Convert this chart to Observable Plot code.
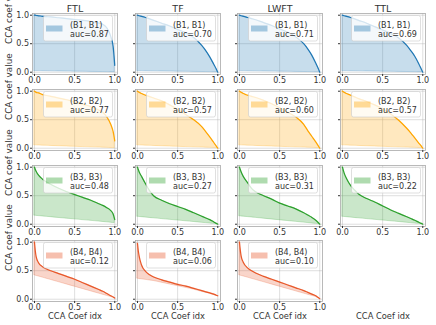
<!DOCTYPE html>
<html><head><meta charset="utf-8">
<script src="https://cdn.jsdelivr.net/npm/d3@7"></script>
<script src="https://cdn.jsdelivr.net/npm/@observablehq/plot@0.6"></script>
<style>
html,body{margin:0;padding:0;background:#fff;}
#chart{position:relative;width:436px;height:325px;font-family:"DejaVu Sans",sans-serif;overflow:hidden;background:#fff;}
</style></head><body><div id="chart"></div>
<script>
const methods = ["FTL", "TF", "LWFT", "TTL"];
const pairs = ["(B1, B1)", "(B2, B2)", "(B3, B3)", "(B4, B4)"];
const auc = [[0.87, 0.70, 0.71, 0.69], [0.77, 0.57, 0.60, 0.57], [0.48, 0.27, 0.31, 0.22], [0.12, 0.06, 0.10]];
const idx = [0, 0.01, 0.02, 0.05, 0.1, 0.15, 0.2, 0.3, 0.4, 0.5, 0.6, 0.7, 0.8, 0.85, 0.9, 0.95, 0.98, 1.0];
const xTicks = [0, 0.5, 1];
const xLabel = "CCA Coef idx";
const yLabel = "CCA coef value";

// upper curves (CCA coefficient values), one array per method: FTL, TF, LWFT, TTL
const upperB1 = [
  [1.0, 1.0, 0.995, 0.99, 0.98, 0.975, 0.97, 0.955, 0.94, 0.925, 0.91, 0.89, 0.86, 0.84, 0.78, 0.63, 0.45, 0.12],
  [1.0, 0.995, 0.99, 0.98, 0.96, 0.935, 0.91, 0.86, 0.81, 0.75, 0.69, 0.61, 0.47, 0.38, 0.27, 0.14, 0.06, 0.0],
  [1.0, 0.995, 0.99, 0.98, 0.96, 0.94, 0.92, 0.87, 0.82, 0.76, 0.70, 0.62, 0.50, 0.41, 0.30, 0.16, 0.07, 0.0],
  [1.0, 0.995, 0.99, 0.98, 0.96, 0.935, 0.91, 0.86, 0.80, 0.74, 0.68, 0.60, 0.47, 0.38, 0.28, 0.15, 0.06, 0.0]
];
const lowerB1 = [
  [0.02, 0.02, 0.02, 0.02, 0.018, 0.017, 0.016, 0.014, 0.012, 0.01, 0.008, 0.006, 0.004, 0.003, 0.002, 0.001, 0.0, 0.0],
  [0.02, 0.02, 0.02, 0.02, 0.018, 0.017, 0.016, 0.014, 0.012, 0.01, 0.008, 0.006, 0.004, 0.003, 0.002, 0.001, 0.0, 0.0],
  [0.02, 0.02, 0.02, 0.02, 0.018, 0.017, 0.016, 0.014, 0.012, 0.01, 0.008, 0.006, 0.004, 0.003, 0.002, 0.001, 0.0, 0.0],
  [0.02, 0.02, 0.02, 0.02, 0.018, 0.017, 0.016, 0.014, 0.012, 0.01, 0.008, 0.006, 0.004, 0.003, 0.002, 0.001, 0.0, 0.0]
];
const upperB2 = [
  [1.0, 0.99, 0.98, 0.97, 0.94, 0.925, 0.91, 0.88, 0.85, 0.81, 0.77, 0.73, 0.67, 0.63, 0.55, 0.42, 0.29, 0.13],
  [1.0, 0.99, 0.98, 0.96, 0.93, 0.905, 0.88, 0.83, 0.76, 0.68, 0.59, 0.50, 0.38, 0.29, 0.20, 0.10, 0.04, 0.0],
  [1.0, 0.99, 0.98, 0.96, 0.93, 0.91, 0.89, 0.84, 0.78, 0.71, 0.63, 0.55, 0.42, 0.31, 0.21, 0.11, 0.045, 0.0],
  [1.0, 0.99, 0.98, 0.96, 0.93, 0.90, 0.87, 0.82, 0.76, 0.69, 0.60, 0.49, 0.35, 0.27, 0.18, 0.09, 0.04, 0.0]
];
const lowerB2 = [
  [0.05, 0.05, 0.05, 0.048, 0.045, 0.043, 0.04, 0.035, 0.03, 0.025, 0.02, 0.016, 0.012, 0.01, 0.007, 0.004, 0.002, 0.0],
  [0.05, 0.05, 0.05, 0.048, 0.045, 0.043, 0.04, 0.035, 0.03, 0.025, 0.02, 0.016, 0.012, 0.01, 0.007, 0.004, 0.002, 0.0],
  [0.05, 0.05, 0.05, 0.048, 0.045, 0.043, 0.04, 0.035, 0.03, 0.025, 0.02, 0.016, 0.012, 0.01, 0.007, 0.004, 0.002, 0.0],
  [0.05, 0.05, 0.05, 0.048, 0.045, 0.043, 0.04, 0.035, 0.03, 0.025, 0.02, 0.016, 0.012, 0.01, 0.007, 0.004, 0.002, 0.0]
];
const upperB3 = [
  [1.0, 0.96, 0.93, 0.86, 0.79, 0.74, 0.70, 0.63, 0.57, 0.52, 0.47, 0.42, 0.36, 0.33, 0.29, 0.24, 0.18, 0.08],
  [1.0, 0.96, 0.92, 0.84, 0.71, 0.59, 0.50, 0.42, 0.36, 0.31, 0.26, 0.20, 0.14, 0.11, 0.08, 0.04, 0.015, 0.0],
  [1.0, 0.96, 0.92, 0.83, 0.73, 0.63, 0.57, 0.50, 0.44, 0.37, 0.32, 0.27, 0.20, 0.16, 0.12, 0.07, 0.03, 0.0],
  [1.0, 0.95, 0.90, 0.80, 0.68, 0.60, 0.53, 0.45, 0.39, 0.32, 0.25, 0.19, 0.13, 0.10, 0.07, 0.035, 0.015, 0.0]
];
const lowerB3 = [
  [0.15, 0.149, 0.147, 0.143, 0.137, 0.13, 0.124, 0.11, 0.098, 0.085, 0.072, 0.06, 0.047, 0.04, 0.033, 0.027, 0.022, 0.02],
  [0.13, 0.129, 0.128, 0.124, 0.117, 0.11, 0.104, 0.091, 0.078, 0.065, 0.052, 0.039, 0.026, 0.02, 0.013, 0.007, 0.003, 0.0],
  [0.14, 0.139, 0.137, 0.133, 0.126, 0.119, 0.112, 0.098, 0.084, 0.07, 0.056, 0.042, 0.028, 0.021, 0.014, 0.007, 0.003, 0.0],
  [0.13, 0.129, 0.128, 0.124, 0.117, 0.11, 0.104, 0.091, 0.078, 0.065, 0.052, 0.039, 0.026, 0.02, 0.013, 0.007, 0.003, 0.0]
];
const upperB4 = [
  [1.0, 0.85, 0.75, 0.64, 0.57, 0.53, 0.50, 0.45, 0.40, 0.35, 0.29, 0.23, 0.17, 0.14, 0.10, 0.06, 0.04, 0.02],
  [0.98, 0.85, 0.76, 0.60, 0.49, 0.43, 0.39, 0.34, 0.30, 0.26, 0.23, 0.19, 0.15, 0.13, 0.11, 0.09, 0.07, 0.06],
  [1.0, 0.86, 0.76, 0.64, 0.55, 0.50, 0.46, 0.40, 0.35, 0.30, 0.25, 0.20, 0.15, 0.12, 0.09, 0.06, 0.03, 0.01]
];
const lowerB4 = [
  [0.42, 0.415, 0.41, 0.40, 0.38, 0.36, 0.34, 0.30, 0.26, 0.22, 0.18, 0.14, 0.10, 0.08, 0.06, 0.04, 0.025, 0.015],
  [0.36, 0.358, 0.355, 0.35, 0.34, 0.33, 0.32, 0.29, 0.26, 0.23, 0.20, 0.17, 0.13, 0.115, 0.095, 0.075, 0.06, 0.05],
  [0.42, 0.415, 0.41, 0.40, 0.38, 0.36, 0.34, 0.30, 0.26, 0.22, 0.18, 0.14, 0.10, 0.08, 0.06, 0.04, 0.02, 0.01]
];
const upper = [upperB1, upperB2, upperB3, upperB4];
const lower = [lowerB1, lowerB2, lowerB3, lowerB4];
const colors = ["#1f77b4", "#ffa500", "#2ca02c", "#e8582a"];

// layout
const frameLeft = [32, 135, 237, 340];
const frameTop = [13, 89, 165, 240];
const FW = 85, FH = 61, ML = 32, MR = 8, MT = 13, MB = 26;
const fmt = d3.format(".1f");
const ink = "#333";

function legendBox(color) {
  return (index, scales, values, dims) => {
    const g = d3.create("svg:g");
    const x0 = dims.marginLeft, y0 = dims.marginTop;
    g.append("rect").attr("x", x0 + 11.5).attr("y", y0 + 2.5).attr("width", 69).attr("height", 25.5)
      .attr("rx", 2).attr("fill", "white").attr("fill-opacity", 0.8)
      .attr("stroke", "#cccccc").attr("stroke-opacity", 0.8).attr("stroke-width", 0.8);
    g.append("rect").attr("x", x0 + 14).attr("y", y0 + 12.5).attr("width", 16.5).attr("height", 6)
      .attr("fill", color).attr("fill-opacity", 0.38);
    return g.node();
  };
}

const chart = document.getElementById("chart");
for (let r = 0; r < 4; r++) {
  for (let c = 0; c < 4; c++) {
    const hi = upper[r][c], lo = lower[r][c];
    const marks = [];
    if (hi) {
      const rows = idx.map((x, i) => ({x, hi: hi[i], lo: lo[i]}));
      marks.push(
        Plot.gridX(xTicks, {stroke: "#b0b0b0", strokeOpacity: 0.5, strokeWidth: 0.8}),
        Plot.gridY(xTicks, {stroke: "#b0b0b0", strokeOpacity: 0.5, strokeWidth: 0.8}),
        Plot.areaY(rows, {x: "x", y1: "lo", y2: "hi", fill: colors[r], fillOpacity: 0.25,
          stroke: colors[r], strokeOpacity: 0.3, strokeWidth: 0.8, curve: "monotone-x"}),
        Plot.lineY(rows, {x: "x", y: "hi", stroke: colors[r], strokeWidth: 1.2, curve: "monotone-x"}),
        legendBox(colors[r]),
        Plot.text([`${pairs[r]}\nauc=${auc[r][c].toFixed(2)}`], {frameAnchor: "top-left", dx: 37.5, dy: 8,
          lineAnchor: "top", textAnchor: "start", lineHeight: 1.16, fontSize: 8, fill: ink}),
        Plot.frame({stroke: "#a8a8a8", strokeWidth: 0.8}),
        Plot.axisX({ticks: xTicks, tickFormat: fmt, tickSize: 2, tickPadding: 1, fontSize: 8, label: null}),
        Plot.axisY({ticks: xTicks, tickFormat: c === 0 ? fmt : () => "", tickSize: 2, tickPadding: 1.5, fontSize: 8, label: null})
      );
      if (c === 0) marks.push(Plot.text([yLabel], {frameAnchor: "left", rotate: -90, dx: -23, fontSize: 8.8, fill: ink}));
      if (r === 0) marks.push(Plot.text([methods[c]], {frameAnchor: "top", lineAnchor: "bottom", dy: -2, fontSize: 9.5, fill: ink}));
    }
    if (r === 3) marks.push(Plot.text([xLabel], {frameAnchor: "bottom", lineAnchor: "bottom", dy: 17.5, fontSize: 8.3, fill: ink}));
    const opts = {
      width: ML + FW + MR, height: MT + FH + MB,
      marginLeft: ML, marginRight: MR, marginTop: MT, marginBottom: MB,
      style: {background: "transparent", overflow: "visible", fontFamily: "DejaVu Sans, sans-serif", color: ink},
      marks
    };
    if (hi) {
      opts.x = {domain: [-0.025, 1.034]};
      opts.y = {domain: [-0.04, 1.03]};
    }
    const svg = Plot.plot(opts);
    svg.style.position = "absolute";
    svg.style.left = (frameLeft[c] - ML) + "px";
    svg.style.top = (frameTop[r] - MT) + "px";
    chart.appendChild(svg);
  }
}
</script></body></html>
